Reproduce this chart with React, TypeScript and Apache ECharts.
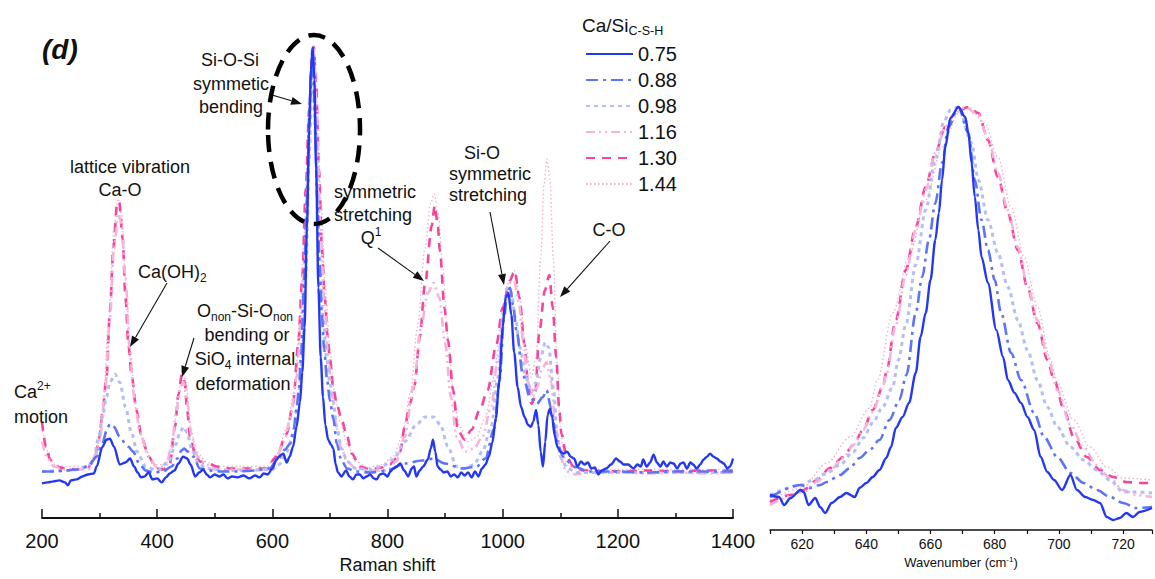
import React, { useEffect, useRef } from 'react';
import * as echarts from 'echarts';

const FONT = '"Liberation Sans", Arial, Helvetica, sans-serif';

// ---------- data ----------
const seriesNames = ['0.75', '0.88', '0.98', '1.16', '1.30', '1.44'];

// Raman spectra (left panel): [Raman shift, relative intensity]
const ram075: [number, number][] = [
  [200,35],[210,36],[220,37],[230,38],[240,36],[245,33],[250,38],[260,39],[270,42],[280,44],[290,45],[295,52],[305,72],[312,79],[318,80],[325,72],[335,54],[345,56],[353,60],[360,52],[366,46],[372,41],[378,42],[385,46],[392,39],[400,40],[408,36],[415,41],[422,45],[430,48],[437,55],[445,62],[452,60],[458,54],[466,42],[473,46],[480,49],[486,44],[492,41],[500,44],[508,42],[515,44],[522,40],[530,42],[540,41],[550,43],[560,40],[570,43],[578,41],[585,45],[592,44],[600,50],[607,59],[613,63],[619,65],[625,56],[630,62],[636,72],[642,92],[648,117],[652,147],[656,192],[660,292],[664,392],[667,452],[670,474],[673,442],[676,352],[680,232],[684,162],[688,122],[692,94],[697,79],[702,74],[706,70],[710,54],[714,46],[720,42],[728,48],[734,42],[740,39],[746,44],[752,44],[758,40],[764,42],[770,44],[776,40],[781,39],[787,44],[793,45],[800,42],[805,47],[810,50],[816,52],[822,55],[829,48],[836,42],[842,50],[846,52],[850,42],[856,48],[862,52],[870,59],[875,70],[879,79],[883,67],[887,52],[892,49],[898,46],[904,47],[910,42],[916,44],[922,41],[928,46],[934,43],[940,46],[946,41],[952,47],[958,42],[964,50],[970,54],[976,62],[982,76],[988,100],[994,137],[1000,192],[1005,222],[1010,227],[1015,205],[1020,167],[1026,132],[1032,112],[1038,102],[1044,94],[1049,92],[1053,97],[1058,109],[1062,94],[1066,67],[1070,52],[1074,77],[1078,104],[1082,110],[1086,102],[1090,84],[1095,72],[1100,67],[1106,65],[1112,67],[1118,62],[1124,60],[1130,52],[1136,57],[1142,54],[1148,56],[1154,50],[1160,51],[1166,44],[1172,48],[1180,50],[1188,54],[1197,60],[1204,57],[1210,54],[1218,54],[1227,50],[1234,54],[1240,52],[1244,59],[1250,52],[1256,56],[1262,64],[1268,56],[1274,52],[1279,57],[1285,52],[1291,56],[1297,55],[1303,50],[1309,55],[1314,56],[1320,50],[1326,56],[1331,54],[1337,50],[1343,54],[1349,59],[1355,62],[1360,65],[1366,62],[1372,60],[1378,57],[1384,55],[1390,50],[1395,52],[1400,60]
];
const ram088: [number, number][] = [
  [200,47],[220,47],[240,48],[260,49],[280,52],[295,62],[305,75],[312,88],[318,95],[325,92],[335,82],[345,75],[350,72],[358,67],[369,55],[380,48],[395,46],[410,47],[425,52],[435,60],[442,68],[447,70],[453,67],[463,62],[474,50],[490,48],[510,47],[540,47],[570,48],[595,50],[607,57],[622,69],[631,75],[637,90],[642,109],[646,130],[650,165],[655,235],[660,320],[665,420],[670,474],[674,405],[678,320],[682,255],[686,205],[690,170],[695,140],[700,118],[706,100],[712,75],[720,58],[730,50],[745,47],[770,46],[800,48],[830,55],[860,58],[880,60],[900,55],[930,50],[955,52],[970,60],[985,90],[995,140],[1002,200],[1008,228],[1013,232],[1018,215],[1024,189],[1035,145],[1047,122],[1059,115],[1070,122],[1076,129],[1085,109],[1093,79],[1105,62],[1123,52],[1150,47],[1200,47],[1250,46],[1300,47],[1350,47],[1400,47]
];
const ram098: [number, number][] = [
  [200,47],[250,48],[280,52],[290,60],[298,80],[305,102],[312,122],[318,137],[327,145],[335,137],[345,112],[355,87],[365,67],[380,52],[400,48],[420,57],[432,74],[440,87],[446,92],[452,86],[460,70],[470,57],[485,50],[520,48],[560,48],[600,49],[612,54],[625,67],[635,82],[645,117],[652,162],[658,242],[664,362],[670,474],[676,372],[682,262],[688,202],[694,162],[700,137],[706,117],[712,92],[720,70],[730,57],[745,50],[770,49],[790,52],[810,59],[830,77],[850,94],[865,102],[880,102],[892,94],[905,72],[920,52],[935,50],[950,54],[965,67],[980,92],[992,142],[1002,212],[1008,232],[1015,227],[1022,202],[1030,172],[1040,142],[1050,127],[1058,137],[1066,162],[1074,177],[1080,172],[1088,132],[1095,82],[1102,60],[1112,50],[1130,46],[1200,46],[1300,46],[1400,46]
];
const ram116: [number, number][] = [
  [200,77],[210,60],[220,52],[240,49],[260,49],[280,49],[290,57],[300,77],[310,132],[318,202],[325,272],[332,307],[338,297],[345,242],[352,172],[360,122],[370,87],[385,62],[400,51],[415,52],[425,72],[433,107],[440,132],[446,137],[452,117],[460,82],[470,62],[485,54],[500,49],[540,49],[590,49],[605,57],[620,77],[632,102],[642,142],[650,202],[656,262],[662,352],[668,452],[672,472],[677,412],[683,302],[690,222],[697,162],[704,122],[712,90],[720,70],[730,57],[745,50],[770,48],[800,48],[815,57],[830,82],[845,132],[858,192],[870,227],[880,237],[890,222],[900,177],[910,122],[920,82],[935,67],[950,70],[965,82],[980,112],[992,162],[1003,212],[1012,237],[1020,239],[1028,217],[1036,177],[1044,137],[1052,122],[1060,132],[1068,150],[1076,157],[1084,137],[1092,92],[1100,62],[1110,47],[1125,44],[1150,46],[1200,46],[1250,45],[1300,46],[1350,45],[1400,46]
];
const ram130: [number, number][] = [
  [200,97],[207,72],[214,59],[225,52],[240,50],[260,49],[280,51],[292,62],[300,82],[306,112],[312,142],[318,209],[324,272],[330,314],[334,319],[340,282],[345,222],[350,175],[356,142],[364,109],[373,82],[385,62],[399,50],[411,49],[422,55],[431,92],[437,125],[443,145],[448,137],[452,109],[457,82],[466,65],[474,57],[489,55],[503,52],[530,50],[560,50],[590,50],[607,62],[625,85],[636,115],[645,175],[652,242],[658,332],[664,412],[669,462],[672,475],[676,437],[681,352],[686,272],[691,222],[696,182],[700,160],[706,130],[712,115],[720,100],[729,84],[738,65],[752,52],[770,49],[790,51],[804,54],[815,60],[822,67],[830,92],[839,115],[847,134],[856,182],[865,235],[877,295],[882,315],[887,297],[891,269],[899,212],[905,179],[914,129],[922,89],[934,79],[946,89],[960,109],[974,129],[989,175],[1000,212],[1012,239],[1021,249],[1029,222],[1038,175],[1044,135],[1050,115],[1056,122],[1064,189],[1073,229],[1081,245],[1087,212],[1093,162],[1098,112],[1102,85],[1111,62],[1123,52],[1140,48],[1200,47],[1250,48],[1300,47],[1350,48],[1400,48]
];
const ram144: [number, number][] = [
  [200,92],[210,67],[220,54],[240,52],[260,52],[280,52],[295,67],[305,102],[315,192],[325,292],[332,322],[338,307],[346,232],[355,152],[365,102],[378,70],[395,54],[415,54],[428,82],[437,127],[444,150],[450,137],[458,92],[468,67],[485,57],[500,52],[550,52],[590,52],[607,64],[625,90],[638,127],[648,202],[655,282],[662,382],[668,462],[672,474],[677,422],[684,322],[692,232],[700,172],[708,127],[718,97],[730,74],[745,57],[765,51],[790,54],[810,62],[825,82],[840,127],[852,192],[865,272],[875,317],[881,327],[888,307],[896,252],[905,182],[915,122],[925,92],[940,77],[955,82],[970,102],[985,142],[998,202],[1010,237],[1020,250],[1030,222],[1040,172],[1050,142],[1058,162],[1066,262],[1072,337],[1077,362],[1082,342],[1088,262],[1094,162],[1100,92],[1106,62],[1115,52],[1130,49],[1200,49],[1300,49],[1400,49]
];

// Zoomed Si-O-Si band (right panel): [wavenumber, relative intensity]
const zoom075: [number, number][] = [
  [610,35],[612.8,33],[614.4,25],[616.4,32],[619.5,40],[620.5,38],[622,25],[624.1,32],[625.6,23],[627.2,17],[629.2,27],[631.8,33],[633.8,37],[636.4,33],[637.9,42],[640,47],[642,53],[644.1,60],[646.2,72],[647.7,83],[649.2,102],[651.3,113],[653.3,127],[655.4,157],[656.9,193],[658.5,217],[660,250],[661.5,290],[662.6,317],[663.6,350],[664.6,383],[666.2,412],[668.7,423],[670.8,413],[671.8,397],[672.8,367],[673.8,333],[674.9,300],[675.9,273],[677.9,247],[680.5,200],[682.6,173],[684.1,150],[686.2,137],[688.2,127],[690.2,113],[692.3,100],[694.3,73],[696.4,58],[698.5,50],[701,40],[703.6,55],[705.6,40],[708.2,33],[710.7,30],[712.8,27],[714.9,13],[716.9,10],[719,12],[721,17],[723.1,13],[725.1,18],[729,22]
];
const zoom088: [number, number][] = [
  [610,33],[619.5,45],[622.6,42],[625.6,45],[627.7,48],[631.8,55],[634.9,62],[637.9,72],[641,80],[644.1,90],[647.2,110],[650.3,130],[652.5,155],[655.4,217],[657.4,253],[659.5,290],[661.5,327],[663.6,367],[665.6,403],[668.7,423],[671.8,397],[673.8,350],[675.9,310],[677.9,280],[680,250],[682,217],[685.1,177],[688.2,150],[692.3,117],[695.4,93],[699.5,73],[703.6,57],[707.7,47],[711.8,40],[715.9,33],[720,27],[724.1,22],[729,23]
];
const zoom098: [number, number][] = [
  [610,35],[619.5,45],[623.6,50],[627.7,57],[631.8,65],[635.9,78],[639,92],[642,107],[645.1,123],[648.2,143],[650,170],[652.3,205],[655.4,265],[658.5,320],[661.5,370],[664.1,408],[666.2,420],[668.7,423],[672.8,387],[674.9,350],[677.9,310],[681,277],[684.1,243],[687.2,210],[690.2,180],[693.3,150],[696.4,123],[699.5,103],[703.6,83],[707.7,70],[711.8,60],[715.9,50],[720,38],[724.1,38],[729,37]
];
const zoom116: [number, number][] = [
  [610,25],[620.5,38],[624.6,48],[628.7,60],[632.8,72],[635.9,85],[639,100],[642,118],[645.1,143],[646.2,155],[649.2,205],[652.3,255],[655.4,300],[658.5,340],[661.5,377],[664.6,403],[667.7,417],[670.8,423],[674.9,415],[677.9,392],[681,357],[684.1,320],[687.2,283],[690.2,245],[693.3,210],[696.4,175],[699.5,140],[703.6,105],[707.7,83],[711.8,65],[715.9,52],[720,40],[724.1,35],[729,33]
];
const zoom130: [number, number][] = [
  [610,28],[616.4,35],[620.5,40],[624.6,50],[628.7,62],[632.8,73],[635.9,85],[639,100],[642,120],[645.1,143],[646.2,157],[649.2,210],[652.3,260],[655.4,303],[658.5,343],[661.5,377],[664.6,403],[667.7,417],[671.8,423],[674.9,417],[677.9,390],[681,353],[684.1,317],[687.2,280],[690.2,243],[693.3,207],[696.4,170],[698.5,150],[701.6,120],[704.6,93],[708.7,73],[712.8,60],[716.9,53],[721,48],[725.1,47],[729,47]
];
const zoom144: [number, number][] = [
  [610,30],[620,42],[627.7,67],[634.9,93],[641,122],[643.5,150],[648.2,217],[653.3,273],[658.5,330],[663.6,383],[668.7,417],[671.8,423],[676.9,407],[681,373],[685.1,323],[689.2,273],[693.3,223],[697.4,170],[699.5,147],[704.6,110],[709.7,83],[714.9,63],[720,52],[729,50]
];

const ramanData = [ram075, ram088, ram098, ram116, ram130, ram144];
const zoomData = [zoom075, zoom088, zoom098, zoom116, zoom130, zoom144];

// ---------- styles ----------
const lineColors = ['#2438f2', '#5c74f5', '#b4bdf6', '#f8b4d6', '#f6449c', '#f2b2ca'];
const lineDashes: any[] = ['solid', [12, 5, 3, 5], [4, 4], [9, 4, 2, 4, 2, 4], [9, 7], [1.5, 2.5]];
const lineWidths = [2.4, 2.6, 3, 2.6, 2.6, 1.4];
const INK = '#111';

function arrow(x1: number, y1: number, x2: number, y2: number) {
  const dx = x2 - x1, dy = y2 - y1;
  const L = Math.hypot(dx, dy);
  const ux = dx / L, uy = dy / L;
  const hl = 11, hw = 4;
  const bx = x2 - ux * hl, by = y2 - uy * hl;
  return [
    { type: 'line', z: 100, shape: { x1, y1, x2: bx, y2: by }, style: { stroke: INK, lineWidth: 1.1 } },
    {
      type: 'polygon', z: 100,
      shape: { points: [[x2, y2], [bx - uy * hw, by + ux * hw], [bx + uy * hw, by - ux * hw]] },
      style: { fill: INK },
    },
  ];
}

const richStyles = {
  n: { fontSize: 18, fontFamily: FONT, lineHeight: 24, fill: INK },
  sub: { fontSize: 12, fontFamily: FONT, lineHeight: 12, verticalAlign: 'bottom', fill: INK },
  sup: { fontSize: 12, fontFamily: FONT, lineHeight: 12, verticalAlign: 'top', fill: INK },
};

function label(text: string, x: number, y: number, align: string = 'center', extra: any = {}) {
  return {
    type: 'text', z: 100, x, y,
    style: {
      text, fill: INK, fontSize: 18, fontFamily: FONT,
      align, textAlign: align, verticalAlign: 'middle', textVerticalAlign: 'middle',
      rich: richStyles, ...extra,
    },
  };
}

export default function App() {
  const ref = useRef<HTMLDivElement>(null);
  useEffect(() => {
    if (!ref.current) return;
    const chart = echarts.init(ref.current, undefined, { renderer: 'svg' });

    const makeSeries = (dataSets: [number, number][][], axisIndex: number) =>
      seriesNames.map((name, i) => ({
        type: 'line', name, xAxisIndex: axisIndex, yAxisIndex: axisIndex,
        data: dataSets[i], symbol: 'none', showSymbol: false,
        smooth: 0.3, smoothMonotone: 'x', silent: true, z: 10 - i,
        lineStyle: { color: lineColors[i], width: lineWidths[i], type: lineDashes[i] },
        itemStyle: { color: lineColors[i] },
      }));

    const graphics: any[] = [
      label('(d)', 42, 49, 'left', { fontSize: 28, fontWeight: 'bold', fontStyle: 'italic' }),
      label('Si-O-Si', 230, 60), label('symmetic', 231, 84), label('bending', 231, 107),
      ...arrow(272, 95, 302, 104),
      label('lattice vibration', 130, 167), label('Ca-O', 120, 190),
      label('{n|Ca(OH)}{sub|2}', 138, 272, 'left'),
      ...arrow(167, 283, 130, 347),
      label('{n|Ca}{sup|2+}', 14, 392, 'left'), label('motion', 14, 417, 'left'),
      label('{n|O}{sub|non}{n|-Si-O}{sub|non}', 245, 311),
      label('bending or', 247, 335),
      label('{n|SiO}{sub|4}{n| internal}', 245, 359),
      label('deformation', 243, 384),
      ...arrow(194, 338, 182, 377),
      label('symmetric', 375, 192), label('stretching', 373, 215),
      label('{n|Q}{sup|1}', 371, 238),
      ...arrow(378, 248, 424, 281),
      label('Si-O', 482, 153), label('symmetric', 490, 174), label('stretching', 488, 195),
      ...arrow(490, 212, 504, 285),
      label('C-O', 609, 230),
      ...arrow(610, 241, 560, 297),
      {
        type: 'ellipse', z: 101,
        shape: { cx: 314, cy: 129.5, rx: 46, ry: 94.5 },
        style: { fill: 'none', stroke: '#000', lineWidth: 4.5, lineDash: [17, 10] },
      },
      label('{t|Ca/Si}{s|C-S-H}', 582, 25, 'left', {
        rich: {
          t: { fontSize: 19, fontFamily: FONT, lineHeight: 24, fill: INK },
          s: { fontSize: 12.5, fontFamily: FONT, lineHeight: 12, verticalAlign: 'bottom', fill: INK },
        },
      }),
    ];

    chart.setOption({
      animation: false,
      backgroundColor: '#ffffff',
      textStyle: { fontFamily: FONT },
      legend: {
        orient: 'vertical', left: 580, top: 39,
        itemWidth: 47, itemHeight: 14, itemGap: 6,
        data: seriesNames,
        textStyle: { fontSize: 20, color: INK, fontFamily: FONT, lineHeight: 20 },
        itemStyle: { opacity: 0 },
        selectedMode: false,
      },
      grid: [
        { left: 42, top: 22, width: 691, height: 500 },
        { left: 770, top: 30, width: 385, height: 500 },
      ],
      xAxis: [
        {
          type: 'value', gridIndex: 0, min: 200, max: 1400, interval: 200,
          axisLine: { lineStyle: { color: INK, width: 1.8 } },
          axisTick: { inside: true, length: 9, lineStyle: { color: INK, width: 1.5 } },
          minorTick: { show: true, splitNumber: 2, length: 5, lineStyle: { color: INK, width: 1.5 } },
          splitLine: { show: false },
          axisLabel: {
            fontSize: 20, color: INK, margin: 13, fontFamily: FONT,
            formatter: (v: number) => String(v),
          },
          name: 'Raman shift', nameLocation: 'middle', nameGap: 37,
          nameTextStyle: { fontSize: 18, color: INK, fontFamily: FONT },
        },
        {
          type: 'value', gridIndex: 1, min: 610, max: 729, interval: 10,
          axisLine: { lineStyle: { color: INK, width: 1.5 } },
          axisTick: { length: 4, lineStyle: { color: INK, width: 1.2 } },
          splitLine: { show: false },
          axisLabel: {
            fontSize: 14, color: INK, margin: 7, fontFamily: FONT,
            formatter: (v: number) => (Math.round(v) % 20 === 0 && v >= 620 && v <= 720 ? String(v) : ''),
          },
          name: 'Wavenumber (cm{sup|-1})', nameLocation: 'middle', nameGap: 25,
          nameTextStyle: {
            fontSize: 13, color: INK, fontFamily: FONT,
            rich: { sup: { fontSize: 8, fontFamily: FONT, verticalAlign: 'top', lineHeight: 8, color: INK } },
          },
        },
      ],
      yAxis: [
        { type: 'value', gridIndex: 0, min: 0, max: 500, show: false },
        { type: 'value', gridIndex: 1, min: 0, max: 500, show: false },
      ],
      series: [...makeSeries(ramanData, 0), ...makeSeries(zoomData, 1)],
      graphic: { elements: graphics },
    });

    return () => chart.dispose();
  }, []);

  return (
    <div
      ref={ref}
      style={{ position: 'fixed', left: 0, top: 0, width: 1155, height: 579, background: '#fff' }}
    />
  );
}
